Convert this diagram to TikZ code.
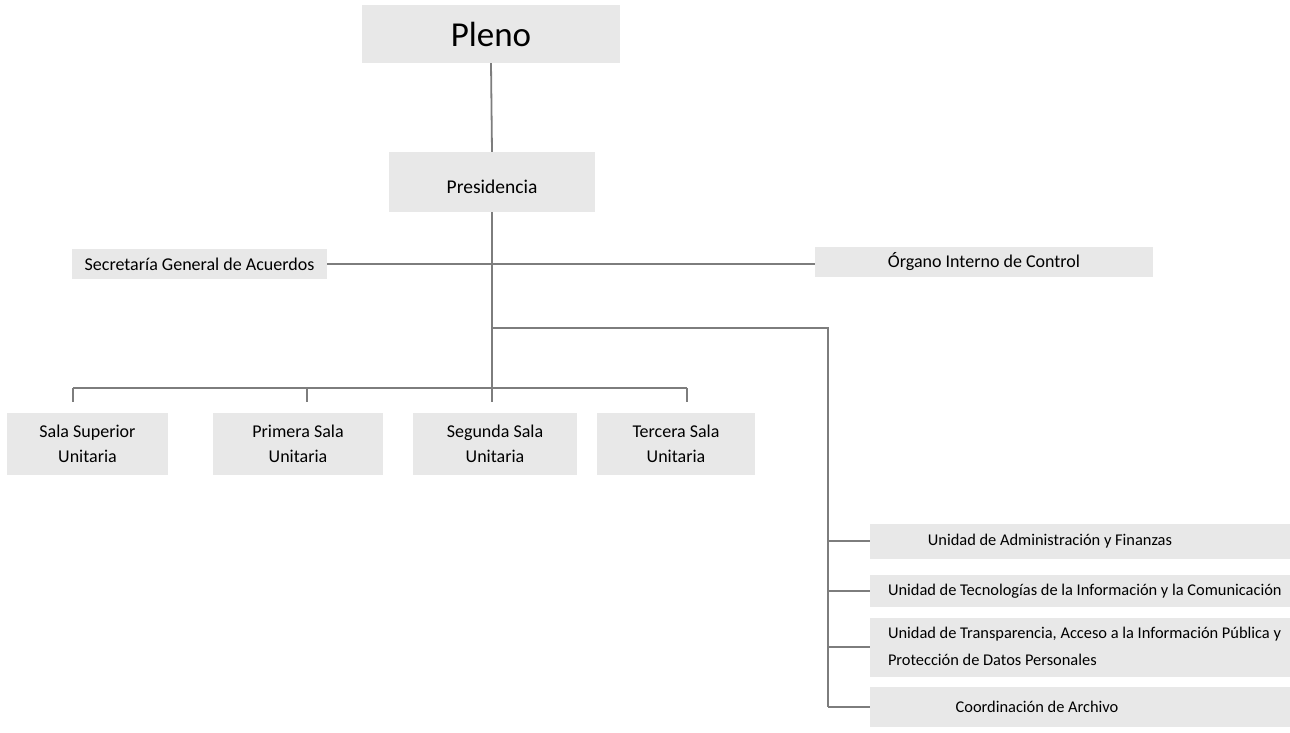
\documentclass[tikz,border=0pt]{standalone}
\usepackage{fontspec}
\setmainfont{Carlito}
\definecolor{boxgray}{RGB}{232,232,232}
\definecolor{linegray}{RGB}{125,125,125}
\newcommand\fsz[2]{\fontsize{#1}{#2}\selectfont}
\begin{document}
\begin{tikzpicture}[x=1pt,y=-1pt,
  box/.style={draw=none, fill=boxgray, inner sep=0pt, align=center, text=black},
  link/.style={draw=linegray, line width=1.8pt},
  sala/.style={box, minimum height=62pt, font=\fsz{18}{25}},
  unit/.style={box, minimum width=420pt}]
\fill[white] (0,0) rectangle (1290,732);
\useasboundingbox (0,0) rectangle (1290,732);

% top
\node[box, minimum width=258pt, minimum height=58pt, font=\fsz{35}{40}] (pleno) at (491,34) {Pleno};
\node[box, minimum width=206pt, minimum height=60pt,
  label={[font=\fsz{19.5}{23}, yshift=-5pt]center:Presidencia}] (pres) at (492,182) {};

% staff
\node[box, minimum width=255pt, minimum height=30pt, font=\fsz{18}{22}] (sec) at (199.5,264) {Secretaría General de Acuerdos};
\node[box, minimum width=338pt, minimum height=30pt, font=\fsz{18}{22}] (org) at (984,262) {Órgano Interno de Control};

% salas
\node[sala, minimum width=161pt] (sup) at (87.5,444) {Sala Superior\\Unitaria};
\node[sala, minimum width=170pt] (pri) at (298,444) {Primera Sala\\Unitaria};
\node[sala, minimum width=164pt] (seg) at (495,444) {Segunda Sala\\Unitaria};
\node[sala, minimum width=158pt] (ter) at (676,444) {Tercera Sala\\Unitaria};

% units
\node[unit, minimum height=35pt,
  label={[font=\fsz{16.4}{20}, xshift=-30pt]center:Unidad de Administración y Finanzas}] (adm) at (1080,541) {};
\node[unit, minimum height=32pt,
  label={[font=\fsz{16.4}{20}, anchor=west, inner sep=0pt, xshift=18pt]west:Unidad de Tecnologías de la Información y la Comunicación}] (tec) at (1080,591) {};
\node[unit, minimum height=59pt,
  label={[font=\fsz{16.4}{27}, align=left, anchor=west, inner sep=0pt, xshift=18pt, yshift=1pt]west:Unidad de Transparencia, Acceso a la Información Pública y\\Protección de Datos Personales}] (tra) at (1080,647) {};
\node[unit, minimum height=40pt,
  label={[font=\fsz{16.4}{20}, xshift=-43pt]center:Coordinación de Archivo}] (coo) at (1080,707) {};

% connectors
\draw[link] (pleno.south) -- (pres.north);
\draw[link, shorten >=11pt] (pres.south) -- (pres.south |- seg.north);
\draw[link] (sec.east) -- (sec.east -| org.west);

\coordinate (b1) at (73,388);
\coordinate (b2) at (307,388);
\coordinate (b4) at (687,388);
\draw[link] (b1) -- (b4);
\draw[link, shorten >=11pt] (b1) -- (b1 |- sup.north);
\draw[link, shorten >=11pt] (b2) -- (b2 |- pri.north);
\draw[link, shorten >=11pt] (b4) -- (b4 |- ter.north);

\coordinate (br) at (492,328);
\coordinate (rv) at (828,328);
\draw[link] (br) -- (rv) -- (rv |- coo.west);
\draw[link] (rv |- adm.west) -- (adm.west);
\draw[link] (rv |- tec.west) -- (tec.west);
\draw[link] (rv |- tra.west) -- (tra.west);
\draw[link] (rv |- coo.west) -- (coo.west);
\end{tikzpicture}
\end{document}
